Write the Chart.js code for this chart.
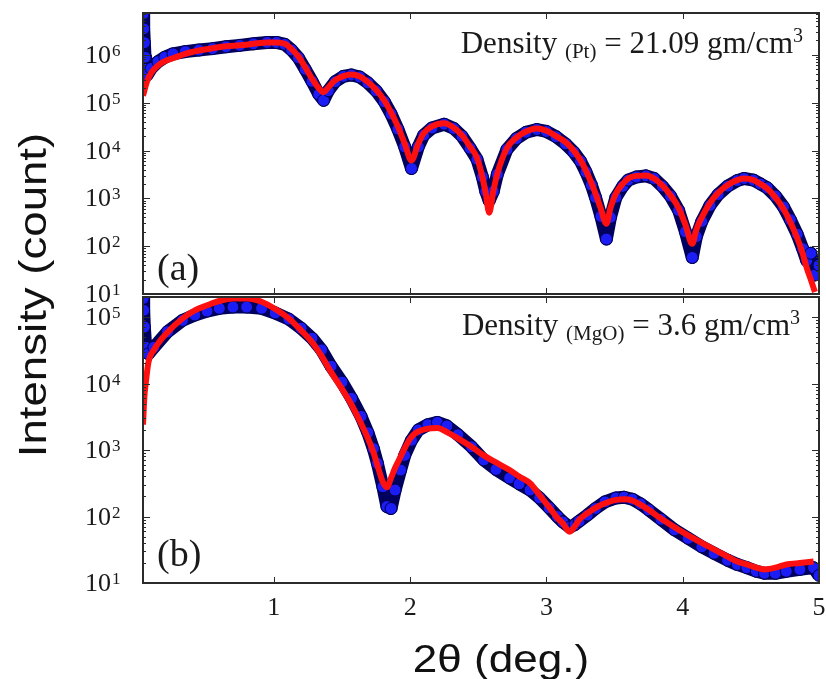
<!DOCTYPE html>
<html>
<head>
<meta charset="utf-8">
<script src="https://cdn.jsdelivr.net/npm/chart.js@4.4.1/dist/chart.umd.min.js"></script>
<style>
  body { margin: 0; background: #fff; }
  #wrap { position: relative; width: 826px; height: 679px; overflow: hidden; background: #fff; }
  canvas { position: absolute; left: 0; }
  #cA { top: 0; }
  #cB { top: 290px; }
  .ttl { position: absolute; font-family: "Liberation Sans", Arial, sans-serif; color: #111;
         white-space: nowrap; text-align: center; height: 44px; line-height: 44px; font-size: 38px; }
  #yt { left: -167px; top: 273px; width: 400px; transform: rotate(-90deg) scaleX(1.2); }
  #xt { left: 351px; top: 637px; width: 300px; transform: scaleX(1.16); }
</style>
</head>
<body>
<div id="wrap">
  <canvas id="cA" width="826" height="305"></canvas>
  <canvas id="cB" width="826" height="389"></canvas>
  <div class="ttl" id="yt">Intensity (count)</div>
  <div class="ttl" id="xt">2θ (deg.)</div>
</div>
<script>
// x ticks (2θ, deg.)
const xTicks = [1, 2, 3, 4, 5];
const decadesA = [1, 2, 3, 4, 5, 6];
const decadesB = [1, 2, 3, 4, 5];

// (a) Pt layer: measured counts
const angleA = [0.04, 0.045, 0.05, 0.055, 0.06, 0.07, 0.10, 0.15, 0.20, 0.26, 0.35, 0.45, 0.55, 0.65, 0.75, 0.85, 0.95,
  1.02, 1.08, 1.13, 1.18, 1.23, 1.28, 1.33, 1.365, 1.40, 1.45, 1.51, 1.57, 1.63, 1.69, 1.75, 1.81, 1.86, 1.91, 1.96,
  2.01, 2.06, 2.10, 2.16, 2.25, 2.32, 2.38, 2.44, 2.49, 2.53, 2.555, 2.58, 2.61, 2.64, 2.71, 2.78, 2.85, 2.93,
  3.00, 3.07, 3.14, 3.20, 3.25, 3.29, 3.33, 3.36, 3.40, 3.44, 3.47, 3.51, 3.56, 3.60, 3.66, 3.73, 3.79, 3.85, 3.91, 3.97,
  4.02, 4.07, 4.10, 4.14, 4.20, 4.26, 4.33, 4.40, 4.45, 4.52, 4.57, 4.62, 4.68, 4.74, 4.79, 4.84, 4.88, 4.91, 4.94, 4.97, 5.00];
const countA = [7.1e6, 3.5e6, 1.8e6, 8.9e5, 5.0e5, 3.8e5, 5.2e5, 7.2e5, 8.9e5, 1.05e6, 1.17e6, 1.26e6, 1.35e6, 1.48e6, 1.58e6, 1.70e6, 1.82e6,
  1.82e6, 1.66e6, 1.26e6, 8.7e5, 5.0e5, 2.8e5, 1.5e5, 1.12e5, 1.78e5, 2.75e5, 3.55e5, 3.8e5, 3.45e5, 2.6e5, 1.78e5, 1.05e5, 5.8e4, 2.8e4, 1.2e4,
  4.2e3, 1.2e4, 2.1e4, 2.95e4, 3.55e4, 2.9e4, 2.0e4, 1.12e4, 6.6e3, 2.8e3, 1.4e3, 890, 1.4e3, 3.2e3, 1.05e4, 1.78e4, 2.4e4, 2.75e4,
  2.5e4, 1.95e4, 1.38e4, 9.3e3, 6.0e3, 3.55e3, 1.9e3, 1.05e3, 420, 141, 400, 1.05e3, 1.78e3, 2.4e3, 2.8e3, 2.95e3, 2.6e3, 1.8e3, 1.12e3, 560,
  200, 58, 158, 330, 710, 1.2e3, 1.8e3, 2.35e3, 2.6e3, 2.4e3, 2.0e3, 1.66e3, 1.12e3, 660, 355, 178, 89, 50, 71, 25, 40];

// (a) Pt layer: fitted curve
const fitAngleA = [0.04, 0.07, 0.10, 0.15, 0.20, 0.26, 0.35, 0.45, 0.55, 0.65, 0.75, 0.85, 0.95,
  1.02, 1.08, 1.13, 1.18, 1.23, 1.28, 1.33, 1.365, 1.40, 1.45, 1.51, 1.57, 1.63, 1.69, 1.75, 1.81, 1.86, 1.91, 1.96,
  2.01, 2.06, 2.10, 2.16, 2.25, 2.32, 2.38, 2.44, 2.49, 2.53, 2.555, 2.58, 2.61, 2.64, 2.71, 2.78, 2.85, 2.93,
  3.00, 3.07, 3.14, 3.20, 3.25, 3.29, 3.33, 3.36, 3.40, 3.44, 3.47, 3.51, 3.56, 3.60, 3.66, 3.73, 3.79, 3.85, 3.91, 3.97,
  4.02, 4.07, 4.10, 4.14, 4.20, 4.26, 4.33, 4.40, 4.45, 4.52, 4.57, 4.62, 4.68, 4.74, 4.79, 4.84, 4.88, 4.91, 4.94, 4.97];
const fitA = [1.4e5, 2.8e5, 4.2e5, 6.0e5, 7.4e5, 8.5e5, 1.05e6, 1.23e6, 1.38e6, 1.51e6, 1.58e6, 1.70e6, 1.82e6,
  1.82e6, 1.70e6, 1.32e6, 9.3e5, 5.5e5, 3.2e5, 2.0e5, 1.66e5, 2.1e5, 2.95e5, 3.6e5, 3.9e5, 3.55e5, 2.7e5, 1.86e5, 1.12e5, 6.3e4, 3.2e4, 1.4e4,
  6.2e3, 1.4e4, 2.3e4, 3.2e4, 3.7e4, 3.0e4, 2.1e4, 1.2e4, 7.1e3, 2.8e3, 1.26e3, 500, 1.4e3, 3.3e3, 1.12e4, 1.86e4, 2.5e4, 2.9e4,
  2.6e4, 2.0e4, 1.5e4, 1.0e4, 6.3e3, 3.8e3, 2.1e3, 1.26e3, 600, 295, 630, 1.26e3, 2.0e3, 2.6e3, 2.95e3, 3.0e3, 2.6e3, 1.86e3, 1.17e3, 630,
  280, 112, 224, 400, 800, 1.3e3, 1.9e3, 2.4e3, 2.6e3, 2.4e3, 2.0e3, 1.6e3, 1.05e3, 600, 316, 148, 71, 35, 20, 11];

// (b) MgO substrate: measured counts
const angleB = [0.04, 0.045, 0.05, 0.06, 0.08, 0.12, 0.22, 0.33, 0.42, 0.51, 0.60, 0.70, 0.80, 0.91,
  1.01, 1.11, 1.20, 1.28, 1.35, 1.42, 1.50, 1.57, 1.64, 1.69, 1.73, 1.76, 1.80, 1.83, 1.86, 1.89, 1.93, 1.96,
  2.01, 2.06, 2.13, 2.20, 2.27, 2.35, 2.45, 2.54, 2.63, 2.73, 2.80, 2.88, 2.95,
  3.02, 3.08, 3.12, 3.17, 3.21, 3.24, 3.30, 3.36, 3.43, 3.51, 3.57, 3.63, 3.69, 3.75, 3.84, 3.94,
  4.04, 4.14, 4.23, 4.33, 4.40, 4.47, 4.54, 4.60, 4.68, 4.76, 4.86, 4.96, 5.00];
const countB = [1.9e5, 1.26e5, 7.1e4, 3.5e4, 2.8e4, 3.5e4, 6.0e4, 8.9e4, 1.07e5, 1.23e5, 1.35e5, 1.41e5, 1.41e5, 1.35e5,
  1.15e5, 9.3e4, 6.8e4, 4.8e4, 3.2e4, 1.82e4, 1.05e4, 6.0e3, 3.2e3, 1.82e3, 1.05e3, 630, 280, 141, 132, 250, 500, 830,
  1.4e3, 2.0e3, 2.4e3, 2.6e3, 2.3e3, 1.7e3, 1.12e3, 710, 510, 380, 310, 250, 190,
  135, 100, 83, 69, 76, 85, 105, 132, 166, 190, 195, 182, 155, 126, 91, 63,
  47, 35, 28, 22, 19, 17, 15, 14, 14, 15, 16, 17, 13];

// (b) MgO substrate: fitted curve
const fitAngleB = [0.04, 0.05, 0.06, 0.08, 0.12, 0.22, 0.33, 0.42, 0.51, 0.60, 0.70, 0.80, 0.91,
  1.01, 1.11, 1.20, 1.28, 1.35, 1.42, 1.50, 1.57, 1.64, 1.69, 1.73, 1.76, 1.80, 1.83, 1.86, 1.89, 1.93, 1.96,
  2.01, 2.06, 2.13, 2.20, 2.27, 2.35, 2.45, 2.54, 2.63, 2.73, 2.80, 2.88, 2.95,
  3.02, 3.08, 3.12, 3.17, 3.21, 3.24, 3.30, 3.36, 3.43, 3.51, 3.57, 3.63, 3.69, 3.75, 3.84, 3.94,
  4.04, 4.14, 4.23, 4.33, 4.40, 4.47, 4.54, 4.60, 4.68, 4.76, 4.86, 4.96];
const fitB = [2.4e3, 6.3e3, 1.0e4, 2.1e4, 3.2e4, 5.9e4, 9.5e4, 1.26e5, 1.5e5, 1.74e5, 1.9e5, 1.9e5, 1.7e5,
  1.32e5, 9.5e4, 6.3e4, 4.2e4, 2.6e4, 1.48e4, 8.3e3, 4.8e3, 2.5e3, 1.5e3, 930, 590, 330, 275, 380, 540, 790, 1.07e3,
  1.58e3, 1.9e3, 2.1e3, 2.15e3, 1.86e3, 1.5e3, 1.12e3, 830, 650, 500, 400, 316, 210,
  138, 95, 79, 59, 72, 89, 112, 135, 158, 178, 182, 174, 151, 126, 93, 69,
  52, 40, 32, 25, 21, 19, 17, 16, 17, 19, 20, 21];

const pts = (xs, ys) => xs.map((x, i) => ({ x: x, y: ys[i] }));

const SERIF = '"Liberation Serif", "Times New Roman", serif';

const panel = {
  id: 'panel',
  afterDatasetsDraw(chart, args, o) {
    const { ctx, chartArea: a, scales: { x, y } } = chart;
    ctx.save();
    ctx.strokeStyle = '#2b2b2b';
    ctx.lineWidth = 1;
    ctx.beginPath();
    xTicks.forEach(v => {
      const px = Math.round(x.getPixelForValue(v)) + 0.5;
      ctx.moveTo(px, a.top); ctx.lineTo(px, a.top + 6);
      ctx.moveTo(px, a.bottom); ctx.lineTo(px, a.bottom - 6);
    });
    o.decades.forEach(e => {
      for (let m = 1; m <= 9; m++) {
        const v = m * Math.pow(10, e);
        if (v < y.min || v > y.max) continue;
        const py = Math.round(y.getPixelForValue(v)) + 0.5;
        const len = m === 1 ? 7 : 3;
        ctx.moveTo(a.left, py); ctx.lineTo(a.left + len, py);
        ctx.moveTo(a.right, py); ctx.lineTo(a.right - len, py);
      }
    });
    ctx.stroke();
    ctx.lineWidth = 2;
    ctx.strokeRect(a.left, a.top, a.width, a.height);

    // y tick labels 10^n
    ctx.fillStyle = '#1a1a1a';
    o.decades.forEach(e => {
      const py = y.getPixelForValue(Math.pow(10, e));
      ctx.font = '26px ' + SERIF; ctx.textAlign = 'right'; ctx.textBaseline = 'alphabetic';
      ctx.fillText('10', a.left - 32, py + 8);
      ctx.font = '17px ' + SERIF; ctx.textAlign = 'left';
      ctx.fillText(String(e), a.left - 31, py + 1);
    });

    // x tick labels (bottom panel only)
    if (o.xLabels) {
      ctx.font = '26px ' + SERIF; ctx.textAlign = 'center';
      xTicks.forEach(v => ctx.fillText(String(v), x.getPixelForValue(v), a.bottom + 32));
    }

    // density note
    const n = o.note;
    const parts = [
      { t: 'Density ', f: '31px ', dy: 0 },
      { t: n.sub, f: '21px ', dy: 5 },
      { t: n.rest, f: '31px ', dy: 0 },
      { t: '3', f: '20px ', dy: -11 }
    ];
    let total = 0;
    parts.forEach(p => { ctx.font = p.f + SERIF; p.w = ctx.measureText(p.t).width; total += p.w; });
    let cx = n.right - total;
    ctx.textAlign = 'left';
    parts.forEach(p => { ctx.font = p.f + SERIF; ctx.fillText(p.t, cx, n.base + p.dy); cx += p.w; });

    // panel tag
    ctx.font = '38px ' + SERIF;
    ctx.fillText(o.tag, 157, o.tagBase);
    ctx.restore();
  }
};

function makeChart(id, fitData, measData, yMax, pad, opts) {
  return new Chart(document.getElementById(id), {
    type: 'scatter',
    data: {
      datasets: [
        { label: 'fit', data: fitData, showLine: true, borderColor: '#ff1010', borderWidth: 6,
          pointRadius: 0, cubicInterpolationMode: 'monotone', borderJoinStyle: 'round', clip: 0 },
        { label: 'measured', data: measData, showLine: true, borderColor: '#00005e', borderWidth: 13,
          borderJoinStyle: 'round', pointRadius: 6, pointBackgroundColor: '#1c1cf5',
          pointBorderColor: '#00004a', pointBorderWidth: 1, clip: 0 }
      ]
    },
    options: {
      responsive: false, animation: false, devicePixelRatio: 1,
      layout: { padding: pad },
      plugins: { legend: { display: false }, tooltip: { enabled: false }, panel: opts },
      scales: {
        x: { type: 'linear', min: 0.04, max: 5, display: false },
        y: { type: 'logarithmic', min: 10, max: yMax,
             ticks: { display: false }, grid: { display: false }, border: { display: false },
             afterFit: s => { s.width = 143; } }
      }
    },
    plugins: [panel]
  });
}

makeChart('cA', pts(fitAngleA, fitA), pts(angleA, countA), 7.5e6,
  { top: 13, right: 1, bottom: 11, left: 0 },
  { decades: decadesA, xLabels: false, tag: '(a)', tagBase: 280,
    note: { sub: '(Pt)', rest: ' = 21.09 gm/cm', right: 803, base: 53 } });

makeChart('cB', pts(fitAngleB, fitB), pts(angleB, countB), 2e5,
  { top: 7, right: 1, bottom: 96, left: 0 },
  { decades: decadesB, xLabels: true, tag: '(b)', tagBase: 276,
    note: { sub: '(MgO)', rest: ' = 3.6 gm/cm', right: 800, base: 45 } });
</script>
</body>
</html>
